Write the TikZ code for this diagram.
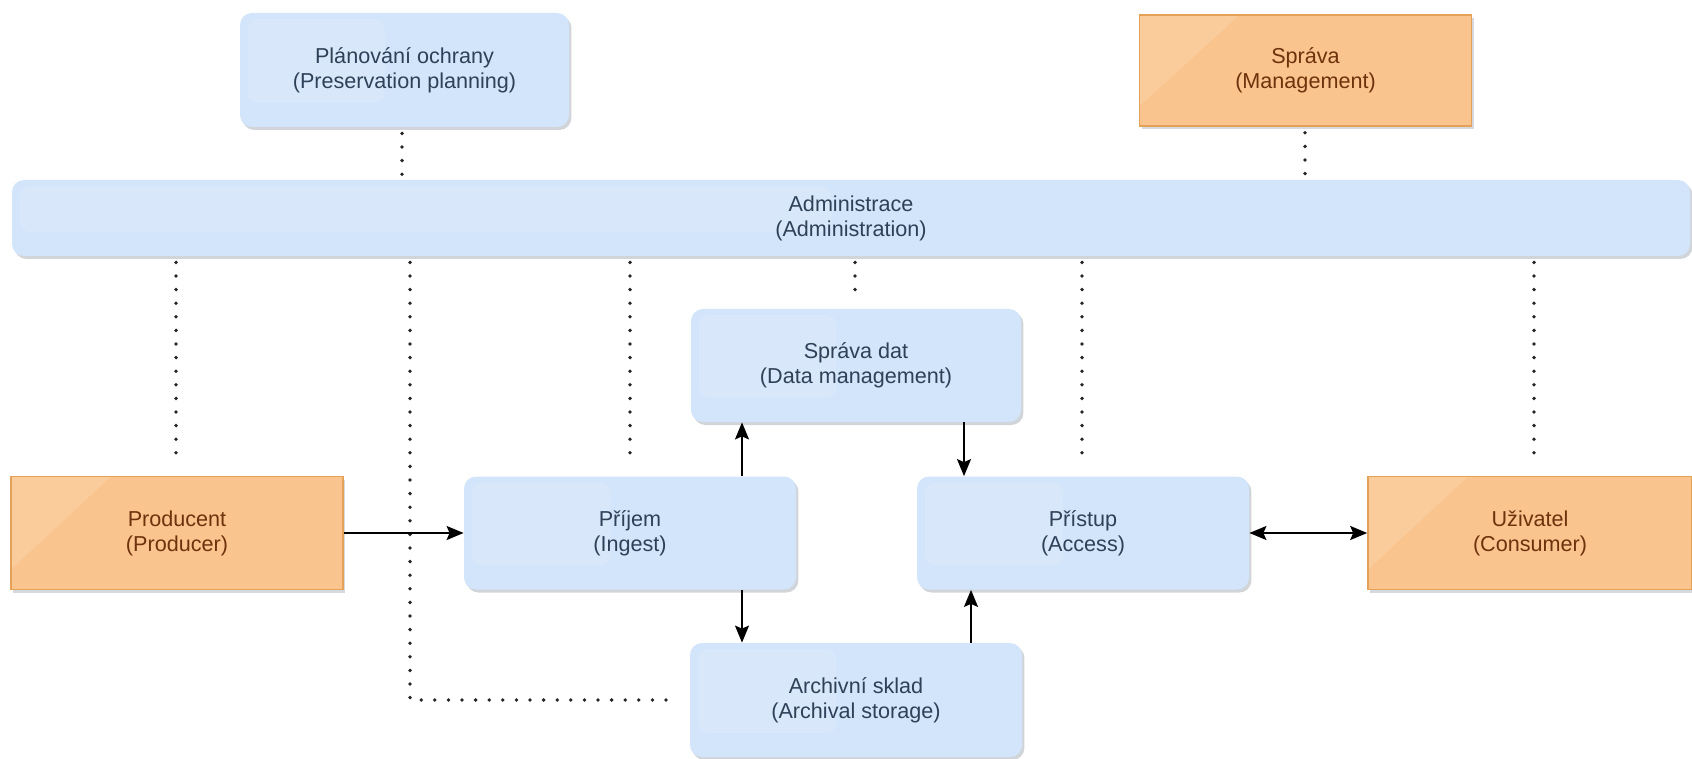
\documentclass[tikz,border=0pt]{standalone}
\usepackage{fontspec}
\setmainfont{Liberation Sans}
\usetikzlibrary{arrows.meta,shadows}
\definecolor{bluefill}{HTML}{D2E5FA}
\definecolor{bluetext}{HTML}{2E4158}
\definecolor{orfill}{HTML}{FAC48E}
\definecolor{orline}{HTML}{E3A257}
\definecolor{ortext}{HTML}{6E320C}
\definecolor{shade}{HTML}{9AA3AD}
\tikzset{
  blubox/.style={rectangle, rounded corners=6pt, fill=bluefill, draw=none,
    text=bluetext, align=center, inner sep=0pt,
    font=\fontsize{10.8pt}{12.5pt}\selectfont,
    drop shadow={shadow xshift=1.2pt, shadow yshift=-1.5pt, opacity=0.45, fill=shade},
    path picture={\fill[white,opacity=0.14,rounded corners=5pt]
      ([xshift=4pt,yshift=-3pt]path picture bounding box.north west) rectangle
      ([xshift=-10pt,yshift=12pt]path picture bounding box.south);}},
  orbox/.style={rectangle, fill=orfill, draw=orline, line width=0.8pt,
    text=ortext, align=center, inner sep=0pt,
    font=\fontsize{10.8pt}{12.5pt}\selectfont,
    drop shadow={shadow xshift=1.2pt, shadow yshift=-1.5pt, opacity=0.4, fill=shade},
    path picture={\fill[white,opacity=0.12]
      (path picture bounding box.north west) --
      ([xshift=50pt]path picture bounding box.north west) --
      ([yshift=10pt]path picture bounding box.south west) -- cycle;}},
  dotline/.style={draw=black!85, line width=1.9pt, line cap=round,
    dash pattern=on 0pt off 6.8pt},
  arr/.style={draw=black, line width=0.9pt, -{Stealth[length=8.5pt,width=7pt,inset=1.5pt]}},
  darr/.style={draw=black, line width=0.9pt, {Stealth[length=8.5pt,width=7pt,inset=1.5pt]}-{Stealth[length=8.5pt,width=7pt,inset=1.5pt]}}
}
\begin{document}
\begin{tikzpicture}[x=0.5pt,y=-0.5pt]
\useasboundingbox[fill=white] (0,0) rectangle (1692,759);
% nodes
\node[blubox, minimum width=164.5pt, minimum height=57pt] (plan) at (404.5,70) {Plánování ochrany\\(Preservation planning)};
\node[orbox, minimum width=166pt, minimum height=55.5pt] (mgmt) at (1305.5,70.5) {Správa\\(Management)};
\node[blubox, minimum width=839pt, minimum height=38pt] (admin) at (851,218) {Administrace\\(Administration)};
\node[blubox, minimum width=165pt, minimum height=56.5pt] (data) at (856,365.5) {Správa dat\\(Data management)};
\node[orbox, minimum width=166pt, minimum height=56.5pt] (prod) at (177,533) {Producent\\(Producer)};
\node[blubox, minimum width=166pt, minimum height=56.5pt] (ingest) at (630,533) {Příjem\\(Ingest)};
\node[blubox, minimum width=166pt, minimum height=56.5pt] (access) at (1083,533) {Přístup\\(Access)};
\node[orbox, minimum width=162pt, minimum height=56.5pt] (cons) at (1530,533) {Uživatel\\(Consumer)};
\node[blubox, minimum width=166pt, minimum height=57pt] (arch) at (856,700) {Archivní sklad\\(Archival storage)};
% helper x coordinates
\coordinate (xplan) at (402,0);
\coordinate (xmgmt) at (1305,0);
\coordinate (xprod) at (176,0);
\coordinate (xarch) at (410,0);
\coordinate (xing) at (630,0);
\coordinate (xdata) at (855,0);
\coordinate (xacc) at (1082,0);
\coordinate (xcons) at (1534,0);
\coordinate (xa1) at (742,0);
\coordinate (xa2) at (964,0);
\coordinate (xa3) at (971,0);
% dotted links
\draw[dotline, shorten <=3pt, shorten >=1pt] (plan.south -| xplan) -- (admin.north -| xplan);
\draw[dotline, shorten <=3pt, shorten >=1pt] (mgmt.south -| xmgmt) -- (admin.north -| xmgmt);
\draw[dotline, shorten <=3pt, shorten >=5pt] (admin.south -| xprod) -- (prod.north -| xprod);
\draw[dotline, shorten <=3pt, shorten >=5pt] (admin.south -| xing) -- (ingest.north -| xing);
\draw[dotline, shorten <=3pt, shorten >=5pt] (admin.south -| xdata) -- (data.north -| xdata);
\draw[dotline, shorten <=3pt, shorten >=5pt] (admin.south -| xacc) -- (access.north -| xacc);
\draw[dotline, shorten <=3pt, shorten >=5pt] (admin.south -| xcons) -- (cons.north -| xcons);
\draw[dotline, shorten <=3pt, shorten >=6pt] (admin.south -| xarch) |- (arch.west);
% arrows
\draw[arr] (prod.east) -- (ingest.west);
\draw[arr] (ingest.north -| xa1) -- (data.south -| xa1);
\draw[arr] (ingest.south -| xa1) -- (arch.north -| xa1);
\draw[arr] (data.south -| xa2) -- (access.north -| xa2);
\draw[arr] (arch.north -| xa3) -- (access.south -| xa3);
\draw[darr] (access.east) -- (cons.west);
\end{tikzpicture}
\end{document}
